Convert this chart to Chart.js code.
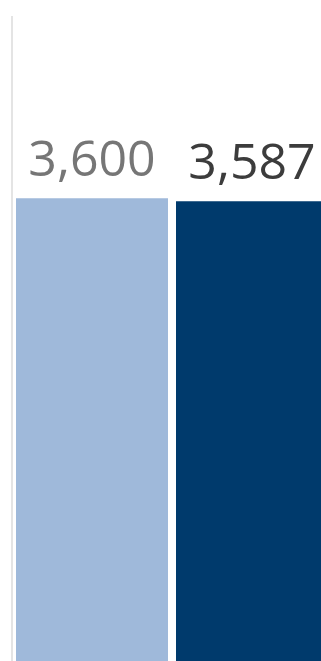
<!DOCTYPE html>
<html>
<head>
<meta charset="utf-8">
<script src="https://cdn.jsdelivr.net/npm/chart.js@4.4.1/dist/chart.umd.min.js"></script>
<style>
  html, body { margin: 0; padding: 0; background: #ffffff; overflow: hidden; }
  #frame { width: 321px; height: 661px; overflow: hidden; position: relative; }
  #wrap { width: 332px; height: 700px; position: absolute; left: 0; top: 0; }
</style>
</head>
<body>
<div id="frame"><div id="wrap"><canvas id="chart"></canvas></div></div>
<script>
// Two totals shown side by side
const categories = ["Target", "Actual"];
const values = [3600, 3587];
const barColors = ["#9fb9da", "#003a6c"];
const labelColors = ["#767676", "#3c3c3c"];
const labelFont = "400 50px 'Open Sans'";

// Value labels drawn above each bar from the bar's own geometry
const valueLabels = {
  id: "valueLabels",
  afterDatasetsDraw(chart) {
    const ctx = chart.ctx;
    const meta = chart.getDatasetMeta(0);
    ctx.save();
    ctx.font = labelFont + ", sans-serif";
    ctx.textAlign = "center";
    ctx.textBaseline = "alphabetic";
    meta.data.forEach((bar, i) => {
      ctx.fillStyle = labelColors[i];
      ctx.fillText(values[i].toLocaleString("en-US"), bar.x, bar.y - 22);
    });
    ctx.restore();
  }
};

function draw() {
  new Chart(document.getElementById("chart"), {
    type: "bar",
    data: {
      labels: categories,
      datasets: [{
        data: values,
        backgroundColor: barColors,
        borderWidth: 0,
        categoryPercentage: 1,
        barPercentage: 0.95
      }]
    },
    options: {
      responsive: true,
      maintainAspectRatio: false,
      animation: false,
      layout: { padding: { left: 12, top: 17, right: 0, bottom: 0 } },
      plugins: { legend: { display: false }, tooltip: { enabled: false } },
      scales: {
        x: { display: false },
        y: {
          min: 1425,
          max: 4385,
          ticks: { display: false },
          grid: { display: false, drawTicks: false },
          border: { display: true, color: "#e4e4e4", width: 2 }
        }
      }
    },
    plugins: [valueLabels]
  });
}

document.fonts.load(labelFont).then(draw, draw);
</script>
</body>
</html>
